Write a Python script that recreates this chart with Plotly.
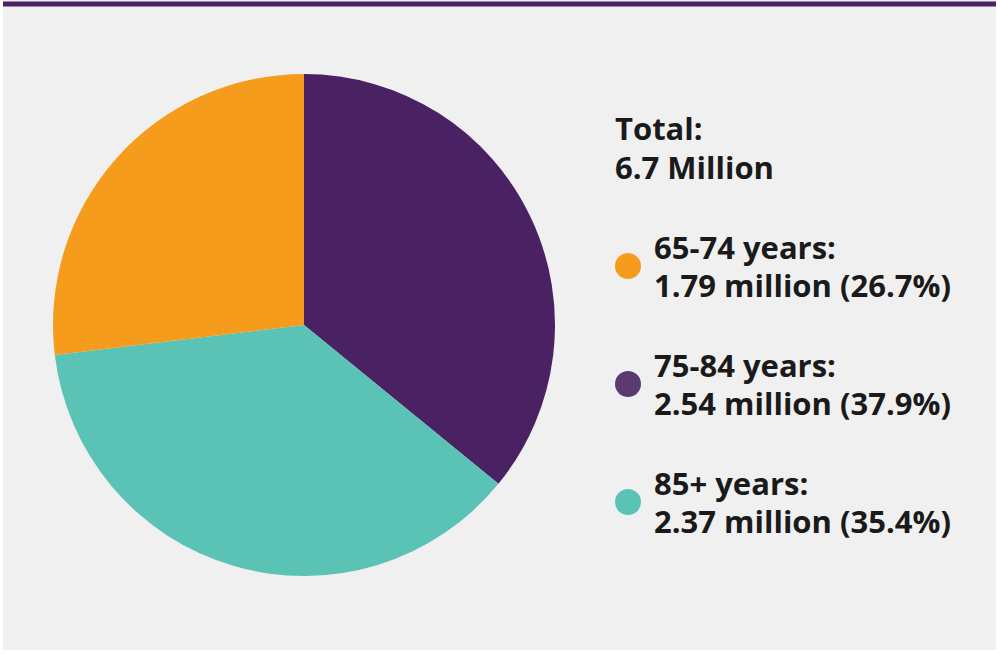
import plotly.graph_objects as go

# slices as drawn, clockwise from 12 o'clock
slice_groups = ["75-84 years", "85+ years", "65-74 years"]
slice_share = [35.9, 37.2, 26.9]
slice_colors = ["#4a2162", "#5bc3b5", "#f59c1c"]

total_text = ["Total:", "6.7 Million"]
legend_groups = ["65-74 years:", "75-84 years:", "85+ years:"]
legend_values = ["1.79 million (26.7%)", "2.54 million (37.9%)", "2.37 million (35.4%)"]
legend_colors = ["#f59c1c", "#5a3a70", "#5bc3b5"]

W, H = 1000, 654

fig = go.Figure(go.Pie(
    labels=slice_groups,
    values=slice_share,
    marker=dict(colors=slice_colors, line=dict(width=0)),
    sort=False,
    direction="clockwise",
    rotation=0,
    textinfo="none",
    hoverinfo="label+percent",
    domain=dict(x=[53 / W, 555 / W], y=[1 - 577 / H, 1 - 73 / H]),
))

font = dict(family="Open Sans", size=31, color="#1a1a1a")


def py(y):
    return 1 - y / H


annotations = []
for i, t in enumerate(total_text):
    annotations.append(dict(x=613 / W, y=py(128 + i * 39), text="<b>%s</b>" % t,
                            xanchor="left", yanchor="middle", showarrow=False, font=font))

shapes = [
    # grey panel and purple rule on top
    dict(type="rect", xref="paper", yref="paper", x0=3 / W, x1=996 / W, y0=py(650), y1=py(0),
         fillcolor="#f0f0f0", line=dict(width=0), layer="below"),
    dict(type="line", xref="paper", yref="paper", x0=3 / W, x1=996 / W, y0=py(4), y1=py(4),
         line=dict(color="#4a2162", width=5)),
]

block_mid = [266, 384, 502]
for i, g in enumerate(legend_groups):
    cy = block_mid[i]
    annotations.append(dict(x=652 / W, y=py(cy - 19), text="<b>%s</b>" % g,
                            xanchor="left", yanchor="middle", showarrow=False, font=font))
    annotations.append(dict(x=652 / W, y=py(cy + 19), text="<b>%s</b>" % legend_values[i],
                            xanchor="left", yanchor="middle", showarrow=False, font=font))
    r = 13
    shapes.append(dict(type="circle", xref="paper", yref="paper",
                       x0=(628 - r) / W, x1=(628 + r) / W, y0=py(cy + r), y1=py(cy - r),
                       fillcolor=legend_colors[i], line=dict(width=0)))

fig.update_layout(
    width=W, height=H,
    margin=dict(l=0, r=0, t=0, b=0),
    paper_bgcolor="white",
    plot_bgcolor="white",
    showlegend=False,
    annotations=annotations,
    shapes=shapes,
)

fig.write_html("out.html", config={"displayModeBar": False},
               post_script="document.body.style.margin='0';")
